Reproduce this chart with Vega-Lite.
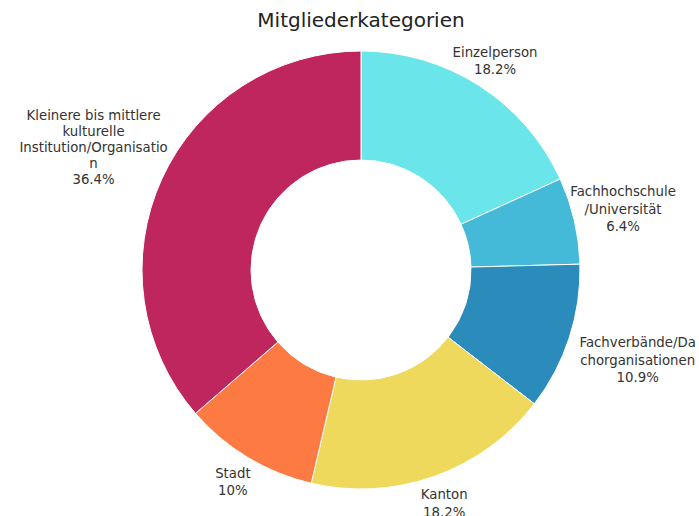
{
  "$schema": "https://vega.github.io/schema/vega-lite/v6.json",
  "width": 676,
  "height": 492,
  "autosize": {"type": "none"},
  "padding": {"left": 23, "top": 24, "right": 0, "bottom": 0},
  "background": "white",
  "title": {"text": "Mitgliederkategorien", "fontSize": 20, "font": "DejaVu Sans", "fontWeight": "normal", "color": "#222222", "anchor": "middle", "frame": "group", "offset": 0, "dy": 47},
  "data": {
    "values": [
      {"cat": "Einzelperson", "value": 18.2, "order": 1, "label": "Einzelperson\n18.2%"},
      {"cat": "Fachhochschule/Universität", "value": 6.4, "order": 2, "label": "Fachhochschule\n/Universität\n6.4%"},
      {"cat": "Fachverbände/Dachorganisationen", "value": 10.9, "order": 3, "label": "Fachverbände/Da\nchorganisationen\n10.9%"},
      {"cat": "Kanton", "value": 18.2, "order": 4, "label": "Kanton\n18.2%"},
      {"cat": "Stadt", "value": 10, "order": 5, "label": "Stadt\n10%"},
      {"cat": "Kleinere bis mittlere kulturelle Institution/Organisation", "value": 36.4, "order": 6, "label": "Kleinere bis mittlere\nkulturelle\nInstitution/Organisatio\nn\n36.4%"}
    ]
  },
  "encoding": {
    "theta": {"field": "value", "type": "quantitative", "stack": true},
    "order": {"field": "order", "type": "quantitative"},
    "detail": {"field": "cat", "type": "nominal"}
  },
  "layer": [
    {
      "mark": {"type": "arc", "outerRadius": 219, "innerRadius": 110, "stroke": "white", "strokeWidth": 1},
      "encoding": {
        "color": {
          "field": "cat", "type": "nominal", "legend": null,
          "scale": {
            "domain": ["Einzelperson", "Fachhochschule/Universität", "Fachverbände/Dachorganisationen", "Kanton", "Stadt", "Kleinere bis mittlere kulturelle Institution/Organisation"],
            "range": ["#6ae5ea", "#45b9d8", "#2b8bba", "#eed95d", "#fd7b42", "#c0265e"]
          }
        }
      }
    },
    {
      "mark": {"type": "text", "radius": 248, "dy": -8.5, "lineBreak": "\n", "font": "DejaVu Sans", "fontSize": 13.3, "lineHeight": 17.5, "align": "center", "baseline": "middle", "color": "#333333"},
      "encoding": {"text": {"condition": {"test": "datum.order === 1 || datum.order === 4 || datum.order === 5", "field": "label"}, "value": ""}}
    },
    {
      "mark": {"type": "text", "radius": 269, "dy": -17, "lineBreak": "\n", "font": "DejaVu Sans", "fontSize": 13.3, "lineHeight": 17.5, "align": "center", "baseline": "middle", "color": "#333333"},
      "encoding": {"text": {"condition": {"test": "datum.order === 2", "field": "label"}, "value": ""}}
    },
    {
      "mark": {"type": "text", "radius": 291, "dy": -17, "lineBreak": "\n", "font": "DejaVu Sans", "fontSize": 13.3, "lineHeight": 17.5, "align": "center", "baseline": "middle", "color": "#333333"},
      "encoding": {"text": {"condition": {"test": "datum.order === 3", "field": "label"}, "value": ""}}
    },
    {
      "mark": {"type": "text", "radius": 294, "dy": -32, "lineBreak": "\n", "font": "DejaVu Sans", "fontSize": 13.3, "lineHeight": 16, "align": "center", "baseline": "middle", "color": "#333333"},
      "encoding": {"text": {"condition": {"test": "datum.order === 6", "field": "label"}, "value": ""}}
    }
  ]
}
